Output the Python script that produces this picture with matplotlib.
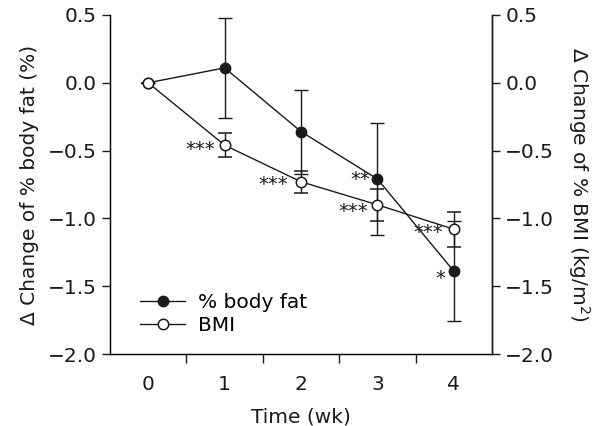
#!/usr/bin/env python3
"""Change of % body fat and BMI over time (dual y axis, same scale)."""
import matplotlib
matplotlib.use("Agg")
import matplotlib.pyplot as plt
from matplotlib.lines import Line2D
import numpy as np

plt.rcParams["font.family"] = ["DejaVu Sans"]

weeks = [0, 1, 2, 3, 4]
fat_mean = [0.0, 0.11, -0.36, -0.71, -1.39]
fat_err = [0.0, 0.37, 0.31, 0.41, 0.37]
bmi_mean = [0.0, -0.46, -0.73, -0.90, -1.08]
bmi_err = [0.0, 0.09, 0.08, 0.12, 0.13]

# significance marks: (series, week, text)
marks = [("bmi", 1, "***"), ("bmi", 2, "***"), ("fat", 3, "**"),
         ("bmi", 3, "***"), ("bmi", 4, "***"), ("fat", 4, "*")]
# pixel offsets of each mark from its point (right edge, centre)
mark_offsets = [(-9, -4), (-12, -3), (-6, 0), (-8, -7), (-10, -3), (-8, -7)]

ink = "#1a1a1a"
fs = 14.5
fig = plt.figure(figsize=(5.99, 4.26), dpi=100)
ax = fig.add_axes([0.1836, 0.169, 0.638, 0.7958])

ax.errorbar(weeks, fat_mean, yerr=fat_err, color=ink, lw=1.0, marker="o",
            ms=7.5, mfc=ink, mec=ink, capsize=4.8, elinewidth=1.0, capthick=1.0,
            zorder=3)
ax.errorbar(weeks, bmi_mean, yerr=bmi_err, color=ink, lw=1.0, marker="o",
            ms=7.5, mfc="white", mec=ink, mew=1.1, capsize=4.8, elinewidth=1.0,
            capthick=1.0, zorder=4)

for (series, wk, t), (dx, dy) in zip(marks, mark_offsets):
    y = fat_mean[wk] if series == "fat" else bmi_mean[wk]
    ax.annotate(t, (wk, y), xytext=(dx - 1, dy), textcoords="offset pixels",
                ha="right", va="center", fontsize=14, color=ink)

ax.set_xlim(-0.5, 4.5)
ax.set_ylim(-2.0, 0.5)
fmt = matplotlib.ticker.FuncFormatter(lambda v, p: f"{v:.1f}".replace("-", "\u2212"))
ax.set_yticks(np.arange(-2.0, 0.51, 0.5))
ax.yaxis.set_major_formatter(fmt)
ax.set_xticks(weeks)
ax.set_xticks([0.5, 1.5, 2.5, 3.5], minor=True)
ax.tick_params(axis="x", which="major", length=0, labelsize=fs, pad=15, colors=ink)
ax.tick_params(axis="x", which="minor", length=6.5, direction="out", width=1.0, colors=ink)
ax.tick_params(axis="y", length=6, width=1.0, labelsize=fs, colors=ink)
ax.spines["top"].set_visible(False)
for s in ("left", "bottom", "right"):
    ax.spines[s].set_linewidth(1.0)
    ax.spines[s].set_color(ink)
ax.set_xlabel("Time (wk)", fontsize=fs, color=ink, labelpad=10)
ax.set_ylabel("\u0394 Change of % body fat (%)", fontsize=fs, color=ink, labelpad=6)

ax2 = ax.twinx()
ax2.set_ylim(ax.get_ylim())
ax2.set_yticks(np.arange(-2.0, 0.51, 0.5))
ax2.yaxis.set_major_formatter(fmt)
ax2.tick_params(axis="y", length=6, width=1.0, labelsize=fs, colors=ink)
ax2.spines["top"].set_visible(False)
ax2.spines["right"].set_linewidth(1.0)
ax2.spines["right"].set_color(ink)
ax2.set_ylabel("\u0394 Change of % BMI (kg/m$^2$)", fontsize=fs, color=ink,
               rotation=270, labelpad=27)

handles = [Line2D([], [], color=ink, lw=1.0, marker="o", ms=7.5, mfc=ink, mec=ink),
           Line2D([], [], color=ink, lw=1.0, marker="o", ms=7.5, mfc="white", mec=ink, mew=1.1)]
ax.legend(handles, ["% body fat", "BMI"], loc="lower left",
          bbox_to_anchor=(30 / 382, 0.055), frameon=False, borderpad=0,
          borderaxespad=0, fontsize=fs, handlelength=2.25, handletextpad=0.65,
          labelspacing=0.2)

plt.savefig("out.png", dpi=100, facecolor="white")
